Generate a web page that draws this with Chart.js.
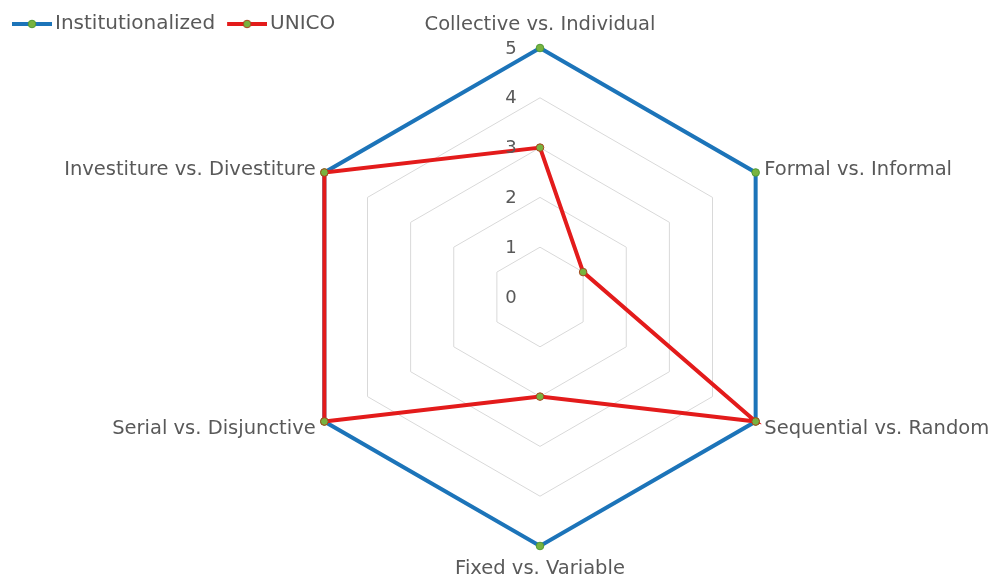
<!DOCTYPE html>
<html>
<head>
<meta charset="utf-8">
<script src="https://cdn.jsdelivr.net/npm/chart.js@4/dist/chart.umd.min.js"></script>
<style>
  html, body { margin: 0; padding: 0; background: #ffffff; }
  #c { display: block; }
</style>
</head>
<body>
<canvas id="c" width="991" height="578"></canvas>
<script>
// Socialization tactics: the six dimensions of the radar
const categories = [
  'Collective vs. Individual',
  'Formal vs. Informal',
  'Sequential vs. Random',
  'Fixed vs. Variable',
  'Serial vs. Disjunctive',
  'Investiture vs. Divestiture'
];
const seriesNames = ['Institutionalized', 'UNICO'];
const institutionalized = [5, 5, 5, 5, 5, 5];
const unico = [3, 1, 5, 2, 5, 5];
const tickValues = [0, 1, 2, 3, 4, 5];

// Look and geometry
const TEXT_COLOR = '#595959';
const FONT = 'DejaVu Sans';
const BLUE = '#1c74b9';
const RED = '#e31b1b';
const DOT = '#78b33f';
const RADAR_CENTER = { x: 540, y: 297 };
const RADAR_RADIUS = 249;

// Legend marker: a short line with a dot in the middle
function makeMarker(lineColor, dotBorder) {
  const cv = document.createElement('canvas');
  cv.width = 45; cv.height = 10;
  const g = cv.getContext('2d');
  g.strokeStyle = lineColor;
  g.lineWidth = 4;
  g.beginPath(); g.moveTo(5, 5); g.lineTo(45, 5); g.stroke();
  g.beginPath(); g.arc(25, 5, 3.8, 0, Math.PI * 2);
  g.fillStyle = DOT; g.fill();
  g.lineWidth = 1; g.strokeStyle = dotBorder; g.stroke();
  return cv;
}
const markers = [makeMarker(BLUE, '#4f9a34'), makeMarker(RED, '#a8461e')];

// Fix the radar's centre and radius once the layout has run
const radarGeometry = {
  id: 'radarGeometry',
  afterLayout(chart) {
    const s = chart.scales.r;
    s.xCenter = RADAR_CENTER.x;
    s.yCenter = RADAR_CENTER.y;
    s.drawingArea = RADAR_RADIUS;
  }
};

// Tick numbers to the left of the top spoke, and the category labels
const axisText = {
  id: 'axisText',
  afterDraw(chart) {
    const s = chart.scales.r;
    const ctx = chart.ctx;
    ctx.save();
    ctx.fillStyle = TEXT_COLOR;

    ctx.font = '18px "' + FONT + '"';
    ctx.textAlign = 'center';
    ctx.textBaseline = 'middle';
    tickValues.forEach(v => {
      const y = s.yCenter - s.getDistanceFromCenterForValue(v);
      ctx.fillText(String(v), s.xCenter - 29, y + 1);
    });

    ctx.font = '19.5px "' + FONT + '"';
    ctx.textBaseline = 'alphabetic';
    const capH = 14.2;
    chart.data.labels.forEach((label, i) => {
      const p = s.getPointPosition(i, s.drawingArea + 10);
      const dx = p.x - s.xCenter;
      const dy = p.y - s.yCenter;
      if (Math.abs(dx) < 1) {
        ctx.textAlign = 'center';
        if (dy < 0) ctx.fillText(label, p.x, p.y - 8);
        else ctx.fillText(label, p.x, p.y + 4 + capH);
      } else {
        ctx.textAlign = dx > 0 ? 'left' : 'right';
        ctx.fillText(label, p.x, p.y + capH / 2);
      }
    });
    ctx.restore();
  }
};

Chart.defaults.font.family = FONT;
Chart.defaults.color = TEXT_COLOR;

new Chart(document.getElementById('c'), {
  type: 'radar',
  data: {
    labels: categories,
    datasets: [
      {
        label: seriesNames[0],
        data: institutionalized,
        borderColor: BLUE,
        backgroundColor: BLUE,
        borderWidth: 4,
        fill: false,
        tension: 0,
        pointRadius: 3.8,
        pointBorderWidth: 1,
        pointBackgroundColor: DOT,
        pointBorderColor: '#4f9a34',
        order: 1,
        clip: false
      },
      {
        label: seriesNames[1],
        data: unico,
        borderColor: RED,
        backgroundColor: RED,
        borderWidth: 4,
        fill: false,
        tension: 0,
        pointRadius: 3.8,
        pointBorderWidth: 1,
        pointBackgroundColor: DOT,
        pointBorderColor: '#a8461e',
        order: 0,
        clip: false
      }
    ]
  },
  options: {
    responsive: false,
    animation: false,
    devicePixelRatio: 1,
    layout: { padding: 0 },
    plugins: {
      tooltip: { enabled: false },
      legend: {
        display: true,
        position: 'top',
        align: 'start',
        labels: {
          usePointStyle: true,
          pointStyleWidth: 31,
          padding: 14,
          color: TEXT_COLOR,
          font: { size: 20, family: FONT },
          sort: (a, b) => a.datasetIndex - b.datasetIndex,
          generateLabels(chart) {
            const items = Chart.defaults.plugins.legend.labels.generateLabels(chart);
            items.forEach(it => { it.pointStyle = markers[it.datasetIndex]; });
            return items;
          }
        }
      }
    },
    scales: {
      r: {
        min: 0,
        max: 5,
        ticks: { stepSize: 1, display: false },
        grid: { color: '#d9d9d9', lineWidth: 1 },
        angleLines: { display: false },
        pointLabels: { display: false }
      }
    }
  },
  plugins: [radarGeometry, axisText]
});
</script>
</body>
</html>
